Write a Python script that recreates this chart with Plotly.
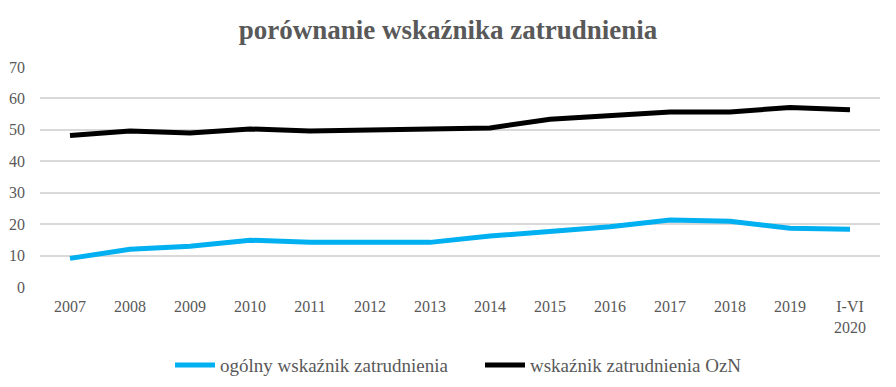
import plotly.graph_objects as go

categories = ["2007", "2008", "2009", "2010", "2011", "2012", "2013", "2014",
              "2015", "2016", "2017", "2018", "2019", "I-VI<br>2020"]
ogolny = [9.1, 12.0, 13.0, 14.9, 14.2, 14.2, 14.2, 16.2, 17.8, 19.2, 21.3, 20.9, 18.7, 18.4]
ozn = [48.2, 49.6, 49.0, 50.3, 49.6, 50.0, 50.0, 50.6, 53.4, 54.5, 55.7, 55.7, 57.1, 56.4]
y_ticks = [0, 10, 20, 30, 40, 50, 60, 70]

serif = "Liberation Serif, Times New Roman, serif"
gray = "#595959"

fig = go.Figure()
fig.add_trace(go.Scatter(x=categories, y=ogolny, mode="lines",
                         name="ogólny wskaźnik zatrudnienia",
                         line=dict(color="#00B0F0", width=5)))
fig.add_trace(go.Scatter(x=categories, y=ozn, mode="lines",
                         name="wskaźnik zatrudnienia OzN",
                         line=dict(color="#000000", width=5)))

fig.update_layout(
    width=896, height=387,
    margin=dict(l=40, r=16, t=67, b=100, autoexpand=False),
    paper_bgcolor="white", plot_bgcolor="white",
    title=dict(text="<b>porównanie wskaźnika zatrudnienia</b>",
               x=0.5, xanchor="center", y=1 - 30 / 387, yanchor="middle",
               font=dict(family=serif, size=27, color=gray)),
    font=dict(family=serif, size=16, color=gray),
    showlegend=True,
    legend=dict(orientation="h", x=0.5 + 20 / 840, xanchor="center", y=-0.355, yanchor="middle",
                font=dict(family=serif, size=19, color=gray),
                itemwidth=40, traceorder="normal",
                entrywidth=255, entrywidthmode="pixels"),
    hovermode=False,
)
fig.update_xaxes(type="category", range=[-0.5, 13.5], showgrid=False, showline=False,
                 zeroline=False, ticks="", automargin=False, ticklabelstandoff=8,
                 tickfont=dict(family=serif, size=16, color=gray))
fig.update_yaxes(range=[0, 70], tickvals=y_ticks, showgrid=True, gridcolor="#D9D9D9",
                 gridwidth=1.5, zeroline=False, showline=False, ticks="",
                 automargin=False, ticklabelstandoff=14,
                 tickfont=dict(family=serif, size=16, color=gray))

fig.write_html("out.html", config={"displayModeBar": False},
               post_script="document.body.style.margin='0';document.body.style.overflow='hidden';")
